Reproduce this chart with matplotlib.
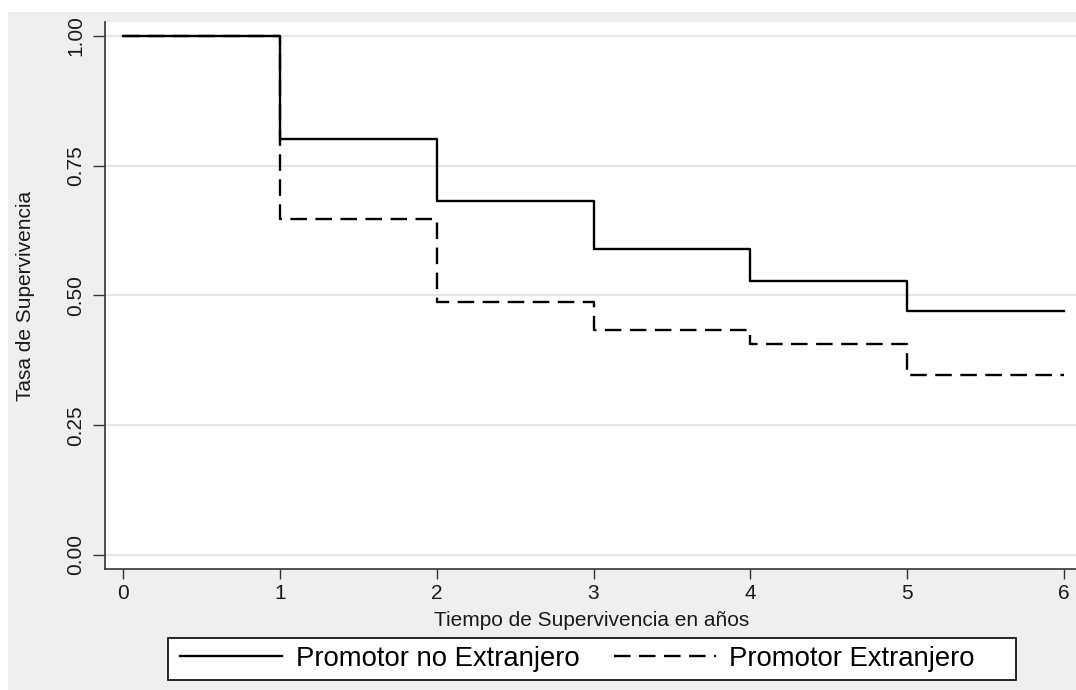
import matplotlib
matplotlib.use("Agg")
import matplotlib.pyplot as plt
from matplotlib.patches import Rectangle

plt.rcParams['font.family'] = ['Liberation Sans', 'DejaVu Sans']

# datos de supervivencia (Kaplan-Meier)
anios = [0, 1, 2, 3, 4, 5, 6]
no_extranjero = [1.00, 0.801, 0.683, 0.589, 0.527, 0.470, 0.470]
extranjero = [1.00, 0.647, 0.487, 0.434, 0.407, 0.347, 0.347]
yticks = [0.00, 0.25, 0.50, 0.75, 1.00]
ytick_labels = ['0.00', '0.25', '0.50', '0.75', '1.00']
xticks = [0, 1, 2, 3, 4, 5, 6]

W, H = 1076, 690
fig = plt.figure(figsize=(W / 100, H / 100), dpi=100, facecolor='white')

# fondo gris del grafico (estilo Stata)
fig.patches.append(Rectangle((8 / W, 0), 1, 1 - 12 / H, transform=fig.transFigure,
                             facecolor='#efefef', edgecolor='none', zorder=-10))
# marco de la leyenda
fig.patches.append(Rectangle((168 / W, 1 - 680 / H), (1016 - 168) / W, 42 / H,
                             transform=fig.transFigure, facecolor='white',
                             edgecolor='black', lw=1.2, zorder=-5))

ax = fig.add_axes([105 / W, 1 - 569 / H, 1 - 105 / W + 0.002, (569 - 22) / H])
ax.set_facecolor('white')

ax.step(anios, no_extranjero, where='post', color='black', lw=1.7,
        label='Promotor no Extranjero', zorder=3)
ax.step(anios, extranjero, where='post', color='black', lw=1.7,
        dashes=(7, 3.6), label='Promotor Extranjero', zorder=2)

ax.set_xlim(-0.115, 6.09)
ax.set_ylim(-0.027, 1.027)
ax.set_yticks(yticks)
ax.set_yticklabels(ytick_labels, rotation=90, va='center')
ax.set_xticks(xticks)
ax.grid(axis='y', color='#e6e6e6', lw=1.6)
ax.set_axisbelow(True)

for s in ['top', 'right']:
    ax.spines[s].set_visible(False)
for s in ['left', 'bottom']:
    ax.spines[s].set_color('#333333')
    ax.spines[s].set_linewidth(1.2)

ax.tick_params(axis='y', length=9, width=1, color='#333333', labelsize=15, pad=5,
               labelcolor='#1a1a1a')
ax.tick_params(axis='x', length=7.5, width=1, color='#333333', labelsize=15, pad=3,
               labelcolor='#1a1a1a')

ax.set_ylabel('Tasa de Supervivencia', fontsize=15, labelpad=23, color='#1a1a1a')
ax.set_xlabel('Tiempo de Supervivencia en años', fontsize=15, labelpad=6, color='#1a1a1a')

leg = fig.legend(loc='center left', bbox_to_anchor=(168 / W, 1 - 659 / H), ncol=2,
                 fontsize=19.8, frameon=False, borderaxespad=0,
                 handlelength=3.7, handletextpad=0.5, columnspacing=1.25,
                 borderpad=0.45)

fig.savefig('out.png', dpi=100, facecolor=fig.get_facecolor())
